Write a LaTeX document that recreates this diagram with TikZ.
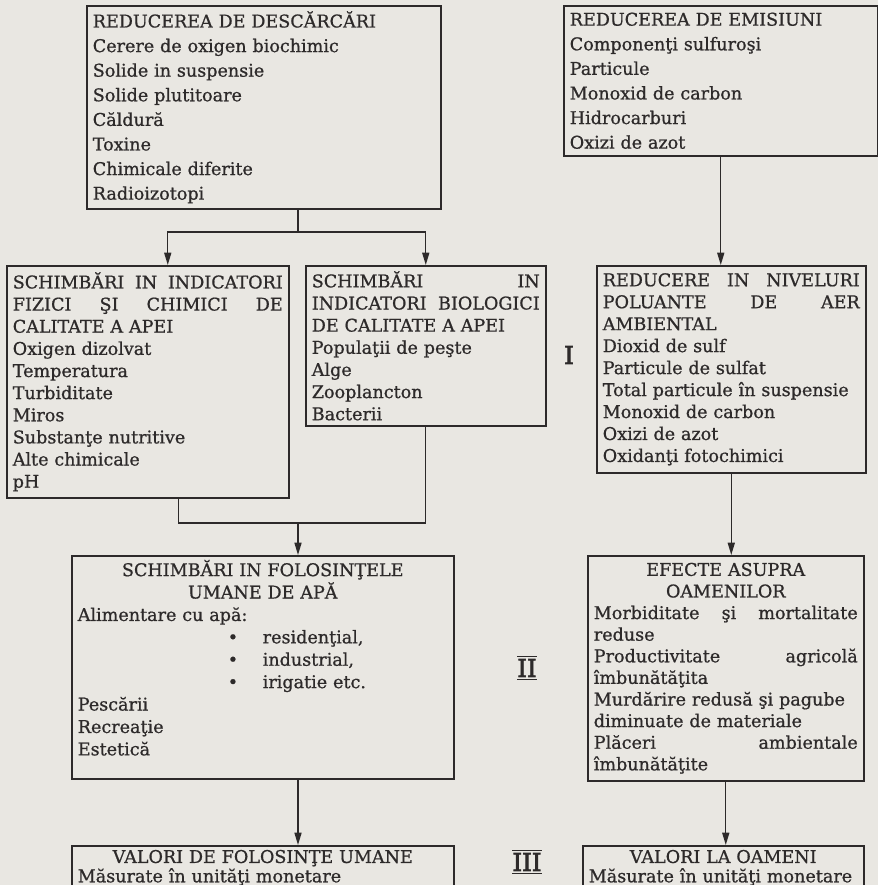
\documentclass[tikz,border=0pt]{standalone}
\usepackage{fontspec}
\setmainfont{DejaVu Serif}[BoldFont={DejaVu Serif}, BoldFeatures={FakeBold=0.8}]
\newfontfamily\numeralfont{DejaVu Serif}[FakeBold=2.5]
\usetikzlibrary{arrows.meta,positioning,calc}
\definecolor{inkgray}{RGB}{45,42,42}
\definecolor{paper}{RGB}{233,231,226}
\tikzstyle{box} = [rectangle, draw=inkgray, line width=0.9pt, anchor=north west, align=left, inner xsep=0.12cm, inner ysep=0pt, text=inkgray]
\tikzstyle{arrow} = [draw=inkgray, line width=0.8pt, -{Triangle[length=7pt,width=4pt]}]
\tikzstyle{link} = [draw=inkgray, line width=0.8pt]
\tikzstyle{numeral} = [text=inkgray, font=\numeralfont\fontsize{14}{14}\selectfont]
\newcommand{\itemfont}[1]{\fontsize{10}{#1}\selectfont\bfseries}
\newcommand{\centred}[1]{\makebox[\linewidth]{#1}}

\begin{document}
\begin{tikzpicture}[x=0.02cm, y=-0.02cm]
\useasboundingbox[fill=paper] (0,0) rectangle (878,885);

% Reduceri
\node[box, text width=6.84cm, minimum height=4.06cm, font=\itemfont{14}] (descarcari) at (86,5) {REDUCEREA DE DESCĂRCĂRI\\Cerere de oxigen biochimic\\Solide in suspensie\\Solide plutitoare\\Căldură\\Toxine\\Chimicale diferite\\Radioizotopi};
\node[box, text width=6.04cm, minimum height=3.0cm, font=\itemfont{14}] (emisiuni) at (563,5) {REDUCEREA DE EMISIUNI\\Componenţi sulfuroşi\\Particule\\Monoxid de carbon\\Hidrocarburi\\Oxizi de azot};

% Indicatori
\node[box, text width=5.40cm, minimum height=4.64cm, font=\itemfont{12.6}] (fizici) at (6,265) {SCHIMBĂRI\hfill IN\hfill INDICATORI\\FIZICI\hfill ŞI\hfill CHIMICI\hfill DE\\CALITATE A APEI\\Oxigen dizolvat\\Temperatura\\Turbiditate\\Miros\\Substanţe nutritive\\Alte chimicale\\pH};
\node[box, text width=4.56cm, minimum height=3.2cm, font=\itemfont{12.6}] (biologici) at (305,265) {SCHIMBĂRI\hfill IN\\INDICATORI\hfill BIOLOGICI\\DE CALITATE A APEI\\Populaţii de peşte\\Alge\\Zooplancton\\Bacterii};
\node[box, text width=5.14cm, minimum height=4.14cm, font=\itemfont{12.5}] (aer) at (596,265) {REDUCERE\hfill IN\hfill NIVELURI\\POLUANTE\hfill DE\hfill AER\\AMBIENTAL\\Dioxid de sulf\\Particule de sulfat\\Total particule în suspensie\\Monoxid de carbon\\Oxizi de azot\\Oxidanţi fotochimici};

% Folosinte si efecte
\node[box, text width=7.40cm, minimum height=4.46cm, font=\itemfont{12.75}] (folosinte) at (71,555) {\centred{SCHIMBĂRI IN FOLOSINŢELE}\\\centred{UMANE DE APĂ}\\Alimentare cu apă:\\
\hspace*{3.0cm}\makebox[0.7cm][l]{\textbullet}residenţial,\\
\hspace*{3.0cm}\makebox[0.7cm][l]{\textbullet}industrial,\\
\hspace*{3.0cm}\makebox[0.7cm][l]{\textbullet}irigatie etc.\\
Pescării\\Recreaţie\\Estetică\rule[-11pt]{0pt}{11pt}};
\node[box, text width=5.28cm, minimum height=4.5cm, font=\itemfont{12.3}] (efecte) at (587,555) {\centred{EFECTE ASUPRA}\\\centred{OAMENILOR}\\Morbiditate\hfill şi\hfill mortalitate\\reduse\\Productivitate\hfill agricolă\\îmbunătăţita\\Murdărire redusă şi pagube\\diminuate de materiale\\Plăceri\hfill ambientale\\îmbunătăţite};

% Valori
\node[box, text width=7.40cm, minimum height=0.88cm, font=\itemfont{11}] (valfol) at (71,845) {\centred{VALORI DE FOLOSINŢE UMANE}\\Măsurate în unităţi monetare};
\node[box, text width=5.38cm, minimum height=0.88cm, font=\itemfont{11}] (valoam) at (582,845) {\centred{VALORI LA OAMENI}\\Măsurate în unităţi monetare};

% Niveluri
\node[numeral] (rom1) at (569,355) {I};
\node[numeral] (rom2) at (527,668) {$\overline{\underline{\mbox{II}}}$};
\node[numeral] (rom3) at (527,862) {$\overline{\underline{\mbox{III}}}$};

% Legaturi
\coordinate (j1) at (298,232);
\coordinate (j2) at (298,523);
\draw[link] (descarcari.south -| j1) -- (j1);
\draw[arrow] (j1) -| ($(fizici.north)+(20,0)$);
\draw[arrow] (j1) -| (biologici.north);
\draw[arrow] (emisiuni.south) -- (emisiuni.south |- aer.north);
\draw[link] ($(fizici.south)+(31,0)$) |- (biologici.south |- j2) -- (biologici.south);
\draw[arrow] (j2) -- (j2 |- folosinte.north);
\draw[arrow] (aer.south) -- (aer.south |- efecte.north);
\draw[arrow] (folosinte.south -| j2) -- (valfol.north -| j2);
\draw[arrow] (efecte.south) -- (efecte.south |- valoam.north);
\end{tikzpicture}
\end{document}
